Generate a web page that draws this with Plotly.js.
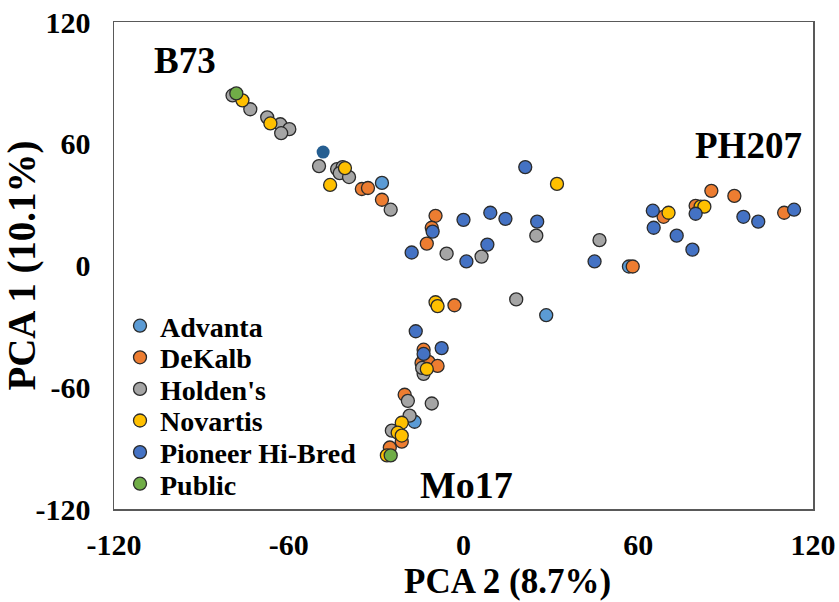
<!DOCTYPE html>
<html>
<head>
<meta charset="utf-8">
<script src="https://cdn.plot.ly/plotly-3.0.1.min.js"></script>
<style>
  html, body { margin: 0; padding: 0; background: #ffffff; }
  #chart { width: 839px; height: 602px; }
</style>
</head>
<body>
<div id="chart"></div>
<script>
// PCA scores of maize inbred lines, grouped by breeding program (PCA 2 on x, PCA 1 on y)
const advantaX  = [-28, 56.8, 28.4, -16.8];
const advantaY  = [40.7, -0.5, -24.5, -77];

const dekalbX = [-34.9, -32.8, -28, -9.6, -10.9, -12.6, -3.1, 58.1, 68.7, 79.7, 85.1, 93, 110.1,
                 -13.7, -14.4, -12, -8.9, -20.2, -21.2, -25.3];
const dekalbY = [37.7, 38.2, 32.4, 24.5, 18.6, 10.8, -19.6, -0.5, 24, 29.4, 36.8, 34.3, 26,
                 -41.5, -48, -47.5, -49.5, -63.7, -86.8, -89.7];

const holdensX = [-79.3, -73.2, -67.4, -62.9, -59.8, -62.6, -49.6, -43.4, -41.5, -42.5, -39.3, -25,
                  -5.8, 6.2, 25, 46.7, 18.1, -13.7, -14.2, -19.1, -10.9, -18.5, -24.6];
const holdensY = [83.8, 77, 73, 69.6, 67.2, 65.2, 49, 47.5, 48.5, 45.5, 43.6, 27.5,
                  5.9, 4.4, 14.7, 12.5, -16.7, -53.4, -50.5, -66.7, -68, -74, -81.4];

const novartisX = [-75.9, -66.3, -40.7, -45.8, 32.1, 70.4, 81.4, 82.7, -9.6, -8.9, -12.6,
                   -21.2, -22.6, -21.2, -26.3];
const novartisY = [81.4, 70, 48, 39.7, 40.2, 26, 29, 29, -18.1, -20, -51,
                   -77.5, -82.4, -83.8, -93.6];

const pioneerX = [-10.6, -17.8, 0, 9.2, 14.4, 8.2, 1, 21.2, 25.3, 45, 65, 65.3, 73.2, 78.6, 79.7,
                  96.1, 101.2, 113.5, -16.4, -7.5, -13.7];
const pioneerY = [16.7, 6.4, 22.5, 26, 23, 10.3, 2, 48.5, 21.6, 2, 27, 18.6, 14.7, 7.8, 25.5,
                  24, 21.6, 27.5, -32.4, -40.7, -43.6];

const publicX = [-78, -25];
const publicY = [84.8, -93.6];

// single highlighted line without an outline
const markedX = [-48.2];
const markedY = [55.9];

const groupNames  = ["Advanta", "DeKalb", "Holden's", "Novartis", "Pioneer Hi-Bred", "Public"];
const groupColors = ["#5B9BD5", "#ED7D31", "#A5A5A5", "#FFC000", "#4472C4", "#70AD47"];
const groupX = [advantaX, dekalbX, holdensX, novartisX, pioneerX, publicX];
const groupY = [advantaY, dekalbY, holdensY, novartisY, pioneerY, publicY];

const serif = "Liberation Serif, Times New Roman, serif";

// plot area geometry in pixels, used to place the legend rows and the x title
const plotTop = 22, plotBottom = 509, plotLeft = 114, plotRight = 813;
const legendRowTop = 326, legendRowStep = 31.6;
const plotW = plotRight - plotLeft, plotH = plotBottom - plotTop;

const legendKeys = groupNames.map((_, i) => (i === 0 ? "legend" : "legend" + (i + 1)));

const traces = groupNames.map((name, i) => ({
  type: "scatter",
  mode: "markers",
  name: "<b>" + name + "</b>",
  legend: legendKeys[i],
  x: groupX[i],
  y: groupY[i],
  marker: {
    size: 13,
    color: groupColors[i],
    line: { color: "#2b2b2b", width: 1.3 }
  }
}));

traces.push({
  type: "scatter",
  mode: "markers",
  name: "",
  showlegend: false,
  x: markedX,
  y: markedY,
  marker: { size: 13, color: "#255E91", line: { width: 0 } }
});

const layout = {
  width: 839,
  height: 602,
  margin: { l: plotLeft, r: 839 - plotRight, t: plotTop, b: 602 - plotBottom },
  paper_bgcolor: "#ffffff",
  plot_bgcolor: "#ffffff",
  font: { family: serif, color: "#000000" },
  showlegend: true,
  xaxis: {
    range: [-120, 120],
    tickvals: [-120, -60, 0, 60, 120],
    ticktext: ["-120", "-60", "0", "60", "120"],
    showgrid: false,
    zeroline: false,
    ticks: "",
    ticklabelstandoff: 8,
    tickfont: { family: serif, size: 30, color: "#000000", weight: "bold" },
    showline: true, mirror: true, linecolor: "#595959", linewidth: 1.5
  },
  yaxis: {
    range: [-120, 120],
    tickvals: [-120, -60, 0, 60, 120],
    ticktext: ["-120", "-60", "0", "60", "120"],
    showgrid: false,
    zeroline: false,
    ticks: "",
    ticklabelstandoff: 16,
    tickfont: { family: serif, size: 30, color: "#000000", weight: "bold" },
    showline: true, mirror: true, linecolor: "#595959", linewidth: 1.5,
    title: { text: "<b>PCA 1 (10.1%)</b>", font: { family: serif, size: 39, weight: "bold" }, standoff: 2 }
  },
  annotations: [
    // x-axis title, sitting a little right of the axis centre
    { xref: "paper", yref: "paper", x: (507 - plotLeft) / plotW, y: (plotBottom - 581) / plotH,
      xanchor: "center", yanchor: "middle", showarrow: false,
      text: "<b>PCA 2 (8.7%)</b>", font: { family: serif, size: 35, color: "#000000" } },
    { x: -95.6, y: 100.8, text: "<b>B73</b>", showarrow: false, xref: "x", yref: "y",
      font: { family: serif, size: 37, color: "#000000" } },
    { x: 98, y: 59, text: "<b>PH207</b>", showarrow: false, xref: "x", yref: "y",
      font: { family: serif, size: 37, color: "#000000" } },
    { x: 1, y: -108, text: "<b>Mo17</b>", showarrow: false, xref: "x", yref: "y",
      font: { family: serif, size: 38, color: "#000000" } }
  ]
};

// one legend per group so the rows keep a tight, even spacing
legendKeys.forEach((key, i) => {
  const cy = legendRowTop + i * legendRowStep;
  layout[key] = {
    x: 6 / plotW,
    xanchor: "left",
    y: (plotBottom - cy) / plotH,
    yanchor: "middle",
    valign: "middle",
    bgcolor: "rgba(0,0,0,0)",
    borderwidth: 0,
    itemwidth: 30,
    font: { family: serif, size: 28, color: "#000000", weight: "bold" }
  };
});

Plotly.newPlot("chart", traces, layout, { staticPlot: true, displayModeBar: false });
</script>
</body>
</html>
